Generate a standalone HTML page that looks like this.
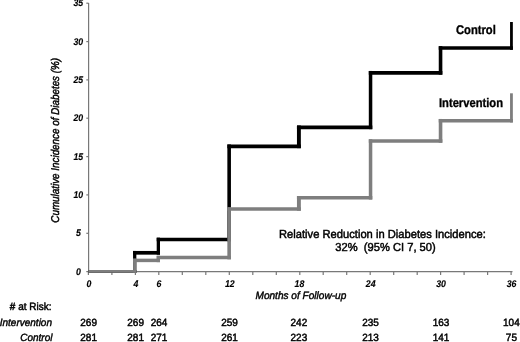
<!DOCTYPE html>
<html><head><meta charset="utf-8"><title>Cumulative Incidence of Diabetes</title>
<style>html,body{margin:0;padding:0;background:#fff}svg{display:block}text{font-family:"Liberation Sans",sans-serif;text-rendering:geometricPrecision;fill:#000;stroke:#000;stroke-width:.3px}.t{font-size:9.7px;font-weight:bold;font-style:italic;stroke-width:.15px}.r{font-size:10px;stroke-width:.45px}.ri{font-size:10px;font-style:italic;stroke-width:.4px}.b{font-size:11.2px;font-weight:bold;stroke-width:.3px}.a{font-size:11px;stroke-width:.45px}</style></head><body>
<svg width="520" height="342" viewBox="0 0 520 342">
<rect width="520" height="342" fill="#fff"/>
<g stroke="#787878" stroke-width="1.2" fill="none">
<path d="M88.6 3 V271.6 H512.5"/>
<path d="M86.3 271.6 H88.6"/>
<path d="M86.3 233.3 H88.6"/>
<path d="M86.3 194.9 H88.6"/>
<path d="M86.3 156.6 H88.6"/>
<path d="M86.3 118.2 H88.6"/>
<path d="M86.3 79.9 H88.6"/>
<path d="M86.3 41.6 H88.6"/>
<path d="M86.3 3.2 H88.6"/>
<path d="M88.4 271.6 V275"/>
<path d="M111.9 271.6 V275"/>
<path d="M135.4 271.6 V275"/>
<path d="M158.8 271.6 V275"/>
<path d="M182.3 271.6 V275"/>
<path d="M205.8 271.6 V275"/>
<path d="M229.3 271.6 V275"/>
<path d="M252.8 271.6 V275"/>
<path d="M276.3 271.6 V275"/>
<path d="M299.8 271.6 V275"/>
<path d="M323.2 271.6 V275"/>
<path d="M346.7 271.6 V275"/>
<path d="M370.2 271.6 V275"/>
<path d="M393.7 271.6 V275"/>
<path d="M417.2 271.6 V275"/>
<path d="M440.6 271.6 V275"/>
<path d="M464.1 271.6 V275"/>
<path d="M487.6 271.6 V275"/>
<path d="M511.1 271.6 V275"/>
</g>
<text class="t" transform="translate(78.30 274.70) scale(0.9 1)" text-anchor="middle">0</text>
<text class="t" transform="translate(78.30 236.36) scale(0.9 1)" text-anchor="middle">5</text>
<text class="t" transform="translate(78.30 198.02) scale(0.9 1)" text-anchor="middle">10</text>
<text class="t" transform="translate(78.30 159.68) scale(0.9 1)" text-anchor="middle">15</text>
<text class="t" transform="translate(78.30 121.34) scale(0.9 1)" text-anchor="middle">20</text>
<text class="t" transform="translate(78.30 83.00) scale(0.9 1)" text-anchor="middle">25</text>
<text class="t" transform="translate(78.30 44.66) scale(0.9 1)" text-anchor="middle">30</text>
<text class="t" transform="translate(78.30 6.32) scale(0.9 1)" text-anchor="middle">35</text>
<text class="t" transform="translate(88.90 286.50) scale(0.9 1)" text-anchor="middle">0</text>
<text class="t" transform="translate(136.00 286.50) scale(0.9 1)" text-anchor="middle">4</text>
<text class="t" transform="translate(159.00 286.50) scale(0.9 1)" text-anchor="middle">6</text>
<text class="t" transform="translate(229.80 286.50) scale(0.9 1)" text-anchor="middle">12</text>
<text class="t" transform="translate(299.40 286.50) scale(0.9 1)" text-anchor="middle">18</text>
<text class="t" transform="translate(370.70 286.50) scale(0.9 1)" text-anchor="middle">24</text>
<text class="t" transform="translate(441.10 286.50) scale(0.9 1)" text-anchor="middle">30</text>
<text class="t" transform="translate(511.60 286.50) scale(0.9 1)" text-anchor="middle">36</text>
<path d="M88.50 271.40 H136.35" stroke="#000" stroke-width="2.7" fill="none"/>
<path d="M134.70 272.75 V250.95" stroke="#000" stroke-width="3.3" fill="none"/>
<path d="M133.05 252.80 H160.00" stroke="#000" stroke-width="3.7" fill="none"/>
<path d="M158.35 254.65 V237.65" stroke="#000" stroke-width="3.3" fill="none"/>
<path d="M156.70 239.50 H230.95" stroke="#000" stroke-width="3.7" fill="none"/>
<path d="M229.15 241.35 V144.45" stroke="#000" stroke-width="3.6" fill="none"/>
<path d="M227.35 146.30 H300.85" stroke="#000" stroke-width="3.7" fill="none"/>
<path d="M298.90 148.15 V125.45" stroke="#000" stroke-width="3.9" fill="none"/>
<path d="M296.95 127.30 H372.30" stroke="#000" stroke-width="3.7" fill="none"/>
<path d="M370.55 129.15 V70.95" stroke="#000" stroke-width="3.5" fill="none"/>
<path d="M368.80 72.80 H442.35" stroke="#000" stroke-width="3.7" fill="none"/>
<path d="M440.55 74.65 V46.15" stroke="#000" stroke-width="3.6" fill="none"/>
<path d="M438.75 48.00 H512.85" stroke="#000" stroke-width="3.7" fill="none"/>
<path d="M511.45 49.85 V22.00" stroke="#000" stroke-width="2.8" fill="none"/>
<path d="M88.50 271.40 H136.35" stroke="#7e7e7e" stroke-width="2.7" fill="none"/>
<path d="M134.70 272.75 V258.65" stroke="#7e7e7e" stroke-width="3.3" fill="none"/>
<path d="M133.05 260.40 H160.00" stroke="#7e7e7e" stroke-width="3.5" fill="none"/>
<path d="M158.35 262.15 V255.85" stroke="#7e7e7e" stroke-width="3.3" fill="none"/>
<path d="M156.70 257.60 H230.95" stroke="#7e7e7e" stroke-width="3.5" fill="none"/>
<path d="M229.15 259.35 V207.25" stroke="#7e7e7e" stroke-width="3.6" fill="none"/>
<path d="M227.35 209.00 H300.85" stroke="#7e7e7e" stroke-width="3.5" fill="none"/>
<path d="M298.90 210.75 V196.05" stroke="#7e7e7e" stroke-width="3.9" fill="none"/>
<path d="M296.95 197.80 H372.30" stroke="#7e7e7e" stroke-width="3.5" fill="none"/>
<path d="M370.55 199.55 V139.25" stroke="#7e7e7e" stroke-width="3.5" fill="none"/>
<path d="M368.80 141.00 H442.35" stroke="#7e7e7e" stroke-width="3.5" fill="none"/>
<path d="M440.55 142.75 V118.95" stroke="#7e7e7e" stroke-width="3.6" fill="none"/>
<path d="M438.75 120.70 H512.85" stroke="#7e7e7e" stroke-width="3.5" fill="none"/>
<path d="M511.45 122.45 V93.30" stroke="#7e7e7e" stroke-width="2.8" fill="none"/>
<text class="b" transform="translate(495.80 33.70) scale(1 1.12)" text-anchor="end">Control</text>
<text class="b" transform="translate(503.00 107.40) scale(1 1.12)" text-anchor="end">Intervention</text>
<text class="a" transform="translate(279.00 238.10) scale(1.016 1.06)">Relative Reduction in Diabetes Incidence:</text>
<text class="a" transform="translate(335.30 251.30) scale(1.014 1.06)" xml:space="preserve">32%  (95% CI 7, 50)</text>
<text class="ri" transform="translate(255.50 298.50) scale(1.008 1.06)">Months of Follow-up</text>
<text class="ri" transform="translate(59.00 222.70) rotate(-90) scale(0.985 1.13)">Cumulative Incidence of Diabetes (%)</text>
<text class="r" transform="translate(51.50 310.30) scale(1 1.05)" text-anchor="end"># at Risk:</text>
<text class="ri" transform="translate(52.00 325.60) scale(1 1.05)" text-anchor="end">Intervention</text>
<text class="ri" transform="translate(52.50 341.40) scale(1 1.05)" text-anchor="end">Control</text>
<text class="r" transform="translate(88.60 325.60) scale(1 1.05)" text-anchor="middle">269</text>
<text class="r" transform="translate(88.60 341.40) scale(1 1.05)" text-anchor="middle">281</text>
<text class="r" transform="translate(135.60 325.60) scale(1 1.05)" text-anchor="middle">269</text>
<text class="r" transform="translate(135.60 341.40) scale(1 1.05)" text-anchor="middle">281</text>
<text class="r" transform="translate(159.00 325.60) scale(1 1.05)" text-anchor="middle">264</text>
<text class="r" transform="translate(159.00 341.40) scale(1 1.05)" text-anchor="middle">271</text>
<text class="r" transform="translate(229.50 325.60) scale(1 1.05)" text-anchor="middle">259</text>
<text class="r" transform="translate(229.50 341.40) scale(1 1.05)" text-anchor="middle">261</text>
<text class="r" transform="translate(298.90 325.60) scale(1 1.05)" text-anchor="middle">242</text>
<text class="r" transform="translate(298.90 341.40) scale(1 1.05)" text-anchor="middle">223</text>
<text class="r" transform="translate(370.50 325.60) scale(1 1.05)" text-anchor="middle">235</text>
<text class="r" transform="translate(370.50 341.40) scale(1 1.05)" text-anchor="middle">213</text>
<text class="r" transform="translate(441.00 325.60) scale(1 1.05)" text-anchor="middle">163</text>
<text class="r" transform="translate(441.00 341.40) scale(1 1.05)" text-anchor="middle">141</text>
<text class="r" transform="translate(511.40 325.60) scale(1 1.05)" text-anchor="middle">104</text>
<text class="r" transform="translate(511.40 341.40) scale(1 1.05)" text-anchor="middle">75</text>
</svg></body></html>
